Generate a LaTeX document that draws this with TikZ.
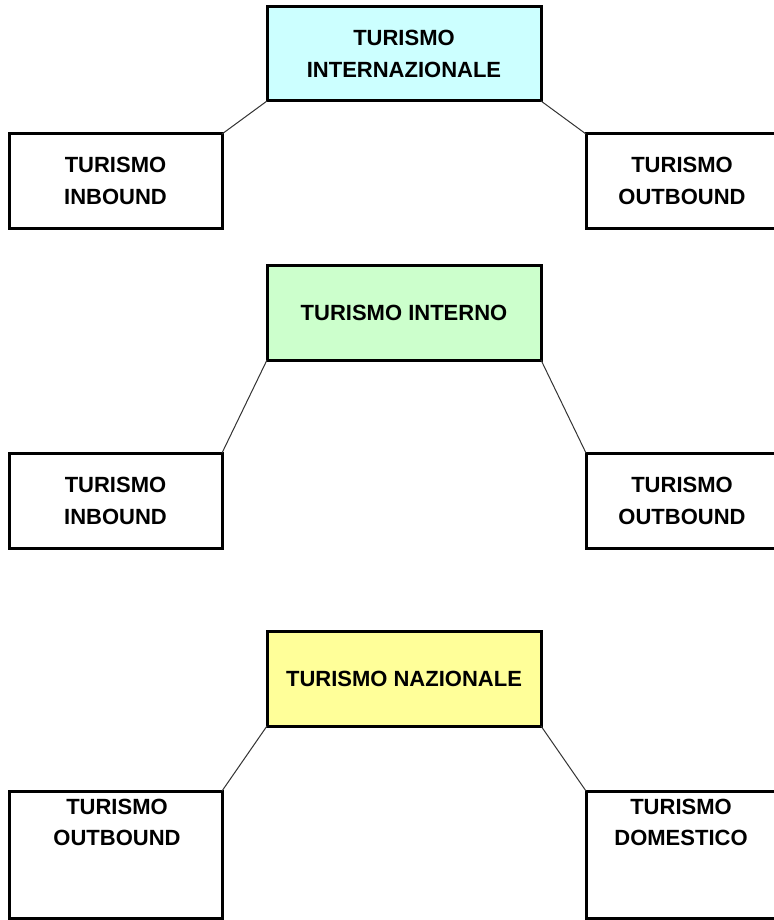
\documentclass[tikz,border=0pt]{standalone}
\usepackage{fontspec}
\setmainfont{Liberation Sans}
\begin{document}
\begin{tikzpicture}[x=1pt,y=-1pt,
  box/.style={draw=black, line width=3pt, inner sep=0pt, outer sep=0pt,
    align=center, font=\bfseries\fontsize{22}{32}\selectfont},
  txt/.style={inner sep=0pt, align=center, font=\bfseries\fontsize{22}{31}\selectfont},
  link/.style={draw=black!80, line width=1pt}]
\useasboundingbox (0,0) rectangle (773,920);

% international tourism
\node[box, fill={rgb,255:red,204;green,255;blue,255}, minimum width=274pt, minimum height=94pt]
  (intl) at (404,54) {TURISMO\\INTERNAZIONALE};
\node[box, minimum width=213pt, minimum height=94pt] (intlIn) at (115.5,181) {TURISMO\\INBOUND};
\node[box, minimum width=192pt, minimum height=94pt] (intlOut) at (682,181) {TURISMO\\OUTBOUND};
\draw[link] (intlIn.north east) -- (intl.south west);
\draw[link] (intl.south east) -- (intlOut.north west);

% internal tourism
\node[box, fill={rgb,255:red,204;green,255;blue,204}, minimum width=274pt, minimum height=95pt]
  (intr) at (404,312.5) {TURISMO INTERNO};
\node[box, minimum width=213pt, minimum height=95pt] (intrIn) at (115.5,500.5) {TURISMO\\INBOUND};
\node[box, minimum width=192pt, minimum height=95pt] (intrOut) at (682,500.5) {TURISMO\\OUTBOUND};
\draw[link] (intrIn.north east) -- (intr.south west);
\draw[link] (intr.south east) -- (intrOut.north west);

% national tourism
\node[box, fill={rgb,255:red,255;green,255;blue,153}, minimum width=274pt, minimum height=95pt]
  (naz) at (404,678.5) {TURISMO NAZIONALE};
\node[box, minimum width=213pt, minimum height=127pt] (nazOut) at (115.5,854.5) {};
\node[box, minimum width=192pt, minimum height=127pt] (nazDom) at (682,854.5) {};
\node[txt] (nazOutT) at (117,822) {TURISMO\\OUTBOUND};
\node[txt] (nazDomT) at (681,822) {TURISMO\\DOMESTICO};
\draw[link] (nazOut.north east) -- (naz.south west);
\draw[link] (naz.south east) -- (nazDom.north west);
\end{tikzpicture}
\end{document}
